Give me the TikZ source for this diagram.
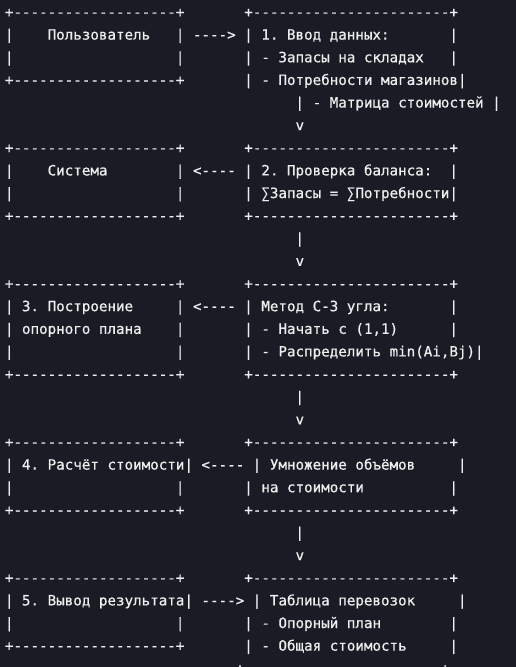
\documentclass[tikz,border=0pt]{standalone}
\usepackage{fontspec}
\newfontfamily\mono[FakeBold=0.6]{DejaVu Sans Mono}
\usetikzlibrary{positioning}
\definecolor{fondo}{HTML}{1A1C25}
\definecolor{tinta}{HTML}{EEEEEE}
\newcommand{\esp}[1]{\hspace*{#1\fontcharwd\font`0}}
\newcommand{\bordeizq}{+-------------------+}
\newcommand{\bordeder}{+-----------------------+}
\tikzset{
    fila/.style={anchor=base west, inner sep=0pt, text=tinta,
        font=\mono\fontsize{14.2}{17}\selectfont\frenchspacing},
}

\begin{document}
\begin{tikzpicture}[x=1pt, y=-1pt]
% fondo
\fill[fondo] (0,0) rectangle (516,667);
\useasboundingbox (0,0) rectangle (516,667);
% filas del esquema
\foreach \t [count=\i from 0] in {
    {\bordeizq\esp{7}\bordeder},
    {|\esp{4}Пользователь\esp{3}| ----> | 1. Ввод данных:\esp{7}|},
    {|\esp{19}|\esp{7}| - Запасы на складах\esp{3}|},
    {\bordeizq\esp{7}| - Потребности магазинов|},
    {\esp{34}| - Матрица стоимостей |},
    {\esp{34}v},
    {\bordeizq\esp{7}\bordeder},
    {|\esp{4}Система\esp{8}| <---- | 2. Проверка баланса:\esp{2}|},
    {|\esp{19}|\esp{7}| ∑Запасы = ∑Потребности|},
    {\bordeizq\esp{7}\bordeder},
    {\esp{34}|},
    {\esp{34}v},
    {\bordeizq\esp{7}\bordeder},
    {| 3. Построение\esp{5}| <---- | Метод С-З угла:\esp{7}|},
    {| опорного плана\esp{4}|\esp{7}| - Начать с (1,1)\esp{6}|},
    {|\esp{19}|\esp{7}| - Распределить min(Ai,Bj)|},
    {\bordeizq\esp{7}\bordeder},
    {\esp{34}|},
    {\esp{34}v},
    {\bordeizq\esp{7}\bordeder},
    {| 4. Расчёт стоимости| <---- | Умножение объёмов\esp{5}|},
    {|\esp{19}|\esp{7}| на стоимости\esp{10}|},
    {\bordeizq\esp{7}\bordeder},
    {\esp{34}|},
    {\esp{34}v},
    {\bordeizq\esp{7}\bordeder},
    {| 5. Вывод результата| ----> | Таблица перевозок\esp{5}|},
    {|\esp{19}|\esp{7}| - Опорный план\esp{8}|},
    {\bordeizq\esp{7}| - Общая стоимость\esp{5}|},
    {\esp{27}\bordeder}} {
    \node[fila] (f\i) at (4.7,{17+22.63*\i}) {\t};
}
\end{tikzpicture}
\end{document}
